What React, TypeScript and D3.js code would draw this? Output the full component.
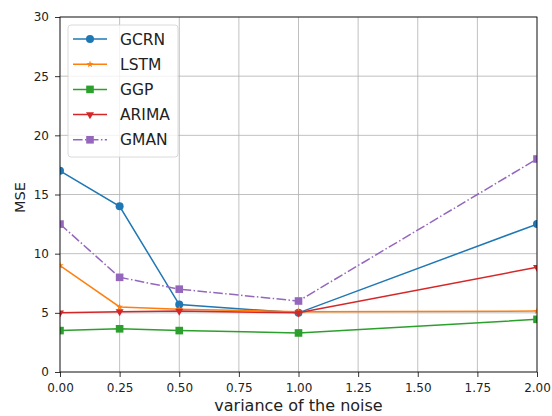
import React, { useEffect, useRef } from "react";
import * as d3 from "d3";

const noiseLevels = [0, 0.25, 0.5, 1.0, 2.0];
const gcrn = [17.0, 14.0, 5.7, 5.0, 12.5];
const lstm = [9.0, 5.5, 5.3, 5.1, 5.15];
const ggp = [3.5, 3.65, 3.5, 3.3, 4.45];
const arima = [5.0, 5.1, 5.15, 5.0, 8.85];
const gman = [12.5, 8.0, 7.0, 6.0, 18.0];
const xTicks = [0, 0.25, 0.5, 0.75, 1.0, 1.25, 1.5, 1.75, 2.0];
const yTicks = [0, 5, 10, 15, 20, 25, 30];

const series = [
  { name: "GCRN", values: gcrn, color: "#1f77b4", marker: "circle", dash: "" },
  { name: "LSTM", values: lstm, color: "#ff7f0e", marker: "star", dash: "" },
  { name: "GGP", values: ggp, color: "#2ca02c", marker: "square", dash: "" },
  { name: "ARIMA", values: arima, color: "#d62728", marker: "triangle", dash: "" },
  { name: "GMAN", values: gman, color: "#9467bd", marker: "square", dash: "9.6,2.4,1.5,2.4" },
];

function drawMarker(g: any, kind: string, x: number, y: number, color: string) {
  if (kind === "circle") {
    g.append("circle").attr("cx", x).attr("cy", y).attr("r", 4).attr("fill", color);
  } else if (kind === "square") {
    g.append("rect").attr("x", x - 3.8).attr("y", y - 3.8).attr("width", 7.6).attr("height", 7.6).attr("fill", color);
  } else if (kind === "triangle") {
    g.append("path").attr("d", d3.symbol(d3.symbolTriangle, 28)()).attr("transform", `translate(${x},${y}) rotate(180)`).attr("fill", color);
  } else {
    g.append("path").attr("d", d3.symbol(d3.symbolStar, 16)()).attr("transform", `translate(${x},${y})`).attr("fill", color);
  }
}

export default function App() {
  const ref = useRef<SVGSVGElement>(null);
  const W = 552, H = 416;
  const m = { left: 60, right: 15, top: 17, bottom: 44 };

  useEffect(() => {
    const svg = d3.select(ref.current);
    svg.selectAll("*").remove();
    const font = "DejaVu Sans, sans-serif";

    const x = d3.scaleLinear().domain([0, 2]).range([m.left, W - m.right]);
    const y = d3.scaleLinear().domain([0, 30]).range([H - m.bottom, m.top]);

    svg.append("rect").attr("width", W).attr("height", H).attr("fill", "#fff");

    // grid
    const grid = svg.append("g");
    xTicks.forEach((t) => {
      grid.append("line").attr("x1", x(t)).attr("x2", x(t)).attr("y1", y(0)).attr("y2", y(30))
        .attr("stroke", "#b0b0b0").attr("stroke-width", 0.8);
    });
    yTicks.forEach((t) => {
      grid.append("line").attr("x1", x(0)).attr("x2", x(2)).attr("y1", y(t)).attr("y2", y(t))
        .attr("stroke", "#b0b0b0").attr("stroke-width", 0.8);
    });

    svg.append("clipPath").attr("id", "plotclip").append("rect")
      .attr("x", x(0)).attr("y", y(30)).attr("width", x(2) - x(0)).attr("height", y(0) - y(30));

    const plot = svg.append("g").attr("clip-path", "url(#plotclip)");
    const line = d3.line<number>().x((_, i) => x(noiseLevels[i])).y((d) => y(d));
    series.forEach((s) => {
      plot.append("path").attr("d", line(s.values)).attr("fill", "none")
        .attr("stroke", s.color).attr("stroke-width", 1.5)
        .attr("stroke-dasharray", s.dash || null);
      s.values.forEach((v, i) => drawMarker(plot, s.marker, x(noiseLevels[i]), y(v), s.color));
    });

    // frame
    svg.append("rect").attr("x", x(0)).attr("y", y(30)).attr("width", x(2) - x(0)).attr("height", y(0) - y(30))
      .attr("fill", "none").attr("stroke", "#000").attr("stroke-width", 0.8);

    // axes
    const xAxis = svg.append("g").attr("transform", `translate(0,${y(0)})`)
      .call(d3.axisBottom(x).tickValues(xTicks).tickFormat(d3.format(".2f")).tickSize(5).tickPadding(6.5));
    const yAxis = svg.append("g").attr("transform", `translate(${x(0)},0)`)
      .call(d3.axisLeft(y).tickValues(yTicks).tickFormat(d3.format("d")).tickSize(5).tickPadding(6));
    [xAxis, yAxis].forEach((a) => {
      a.select(".domain").remove();
      a.selectAll("text").attr("font-family", font).attr("font-size", 12).attr("fill", "#222");
      a.selectAll("line").attr("stroke", "#000").attr("stroke-width", 0.8);
    });

    svg.append("text").attr("x", (x(0) + x(2)) / 2).attr("y", 411).attr("text-anchor", "middle")
      .attr("font-family", font).attr("font-size", 16).attr("fill", "#222").text("variance of the noise");
    svg.append("text").attr("transform", `translate(25,${(y(0) + y(30)) / 2 + 3}) rotate(-90)`)
      .attr("text-anchor", "middle").attr("font-family", font).attr("font-size", 14.5).attr("fill", "#222").text("MSE");

    // legend
    const lg = svg.append("g");
    lg.append("rect").attr("x", 68).attr("y", 25).attr("width", 110).attr("height", 132).attr("rx", 3)
      .attr("fill", "#fff").attr("fill-opacity", 0.8).attr("stroke", "#d0d0d0").attr("stroke-width", 0.8);
    series.forEach((s, i) => {
      const yy = 39 + i * 25.2;
      lg.append("line").attr("x1", 73).attr("x2", 107).attr("y1", yy).attr("y2", yy)
        .attr("stroke", s.color).attr("stroke-width", 1.5).attr("stroke-dasharray", s.dash || null);
      drawMarker(lg, s.marker, 90, yy, s.color);
      lg.append("text").attr("x", 120).attr("y", yy).attr("dy", "0.36em")
        .attr("font-family", font).attr("font-size", 15.5).attr("fill", "#222").text(s.name);
    });
  }, []);

  return <svg ref={ref} width={W} height={H} style={{ position: "absolute", left: 0, top: 0 }} />;
}
